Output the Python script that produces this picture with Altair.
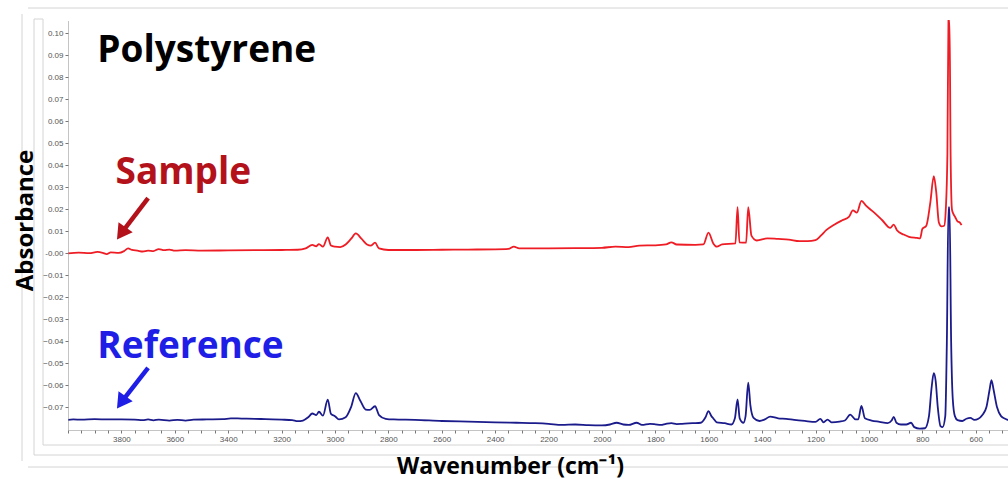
import altair as alt
import pandas as pd

# ---------------- data ----------------
sample_wn = [4000, 3960, 3920, 3890, 3870, 3855, 3840, 3810, 3790, 3775, 3760, 3740, 3720, 3700,
             3680, 3660, 3640, 3620, 3600, 3560, 3500, 3400, 3300, 3200, 3140, 3110, 3085, 3070,
             3060, 3045, 3027, 3015, 3000, 2980, 2960, 2940, 2922, 2900, 2880, 2865, 2850, 2835,
             2800, 2700, 2600, 2500, 2400, 2350, 2330, 2310, 2200, 2100, 2000, 1950, 1900, 1860,
             1800, 1760, 1740, 1720, 1650, 1620, 1601, 1583, 1570, 1550, 1500, 1492, 1485, 1460,
             1452, 1440, 1420, 1380, 1340, 1300, 1260, 1230, 1200, 1180, 1160, 1130, 1100, 1075,
             1060, 1045, 1028, 1010, 980, 950, 920, 907, 895, 870, 850, 820, 808, 800, 785, 770,
             757, 748, 738, 728, 718, 712, 706, 702, 698, 694, 689, 684, 677, 668, 660, 653]
sample_abs = [0.0000, 0.0003, 0.0001, 0.0006, 0.0002, -0.0004, 0.0004, 0.0002, 0.0010, 0.0022,
              0.0015, 0.0012, 0.0008, 0.0012, 0.0010, 0.0019, 0.0014, 0.0017, 0.0012, 0.0014,
              0.0012, 0.0013, 0.0014, 0.0015, 0.0016, 0.0022, 0.0038, 0.0032, 0.0042, 0.0030,
              0.0072, 0.0035, 0.0030, 0.0028, 0.0040, 0.0065, 0.0090, 0.0065, 0.0040, 0.0035,
              0.0048, 0.0022, 0.0015, 0.0015, 0.0016, 0.0017, 0.0018, 0.0020, 0.0030, 0.0022,
              0.0022, 0.0023, 0.0025, 0.0030, 0.0028, 0.0035, 0.0036, 0.0040, 0.0050, 0.0040,
              0.0038, 0.0040, 0.0094, 0.0045, 0.0030, 0.0040, 0.0045, 0.0210, 0.0050, 0.0048,
              0.0210, 0.0080, 0.0058, 0.0068, 0.0065, 0.0062, 0.0055, 0.0055, 0.0060, 0.0080,
              0.0105, 0.0130, 0.0150, 0.0165, 0.0195, 0.0185, 0.0238, 0.0215, 0.0185, 0.0150,
              0.0115, 0.0130, 0.0105, 0.0085, 0.0075, 0.0070, 0.0068, 0.0110, 0.0125, 0.0230,
              0.0350, 0.0280, 0.0140, 0.0122, 0.0125, 0.0200, 0.0450, 0.1058, 0.1058, 0.0450,
              0.0200, 0.0180, 0.0165, 0.0145, 0.0140, 0.0128]

ref_wn = [4000, 3980, 3950, 3900, 3850, 3800, 3750, 3720, 3700, 3680, 3660, 3620, 3590, 3560,
          3530, 3480, 3420, 3390, 3350, 3300, 3260, 3200, 3160, 3140, 3120, 3100, 3085, 3070,
          3060, 3045, 3027, 3015, 3000, 2985, 2960, 2940, 2922, 2905, 2885, 2870, 2850, 2835,
          2810, 2780, 2700, 2600, 2500, 2400, 2320, 2250, 2200, 2150, 2100, 2050, 2000, 1970,
          1945, 1920, 1900, 1870, 1850, 1820, 1800, 1780, 1760, 1740, 1720, 1700, 1660, 1630,
          1612, 1601, 1590, 1583, 1570, 1540, 1515, 1502, 1492, 1484, 1470, 1462, 1452, 1444,
          1432, 1410, 1390, 1370, 1340, 1310, 1280, 1240, 1200, 1182, 1170, 1155, 1140, 1110,
          1090, 1070, 1050, 1040, 1028, 1015, 990, 960, 930, 915, 907, 897, 880, 860, 842, 830,
          810, 790, 775, 766, 757, 750, 742, 732, 724, 714, 708, 702, 698, 692, 686, 678, 668,
          650, 635, 620, 605, 590, 575, 560, 548, 541, 533, 520, 505, 490, 479]
ref_abs = [-0.0757, -0.0755, -0.0756, -0.0754, -0.0755, -0.0755, -0.0756, -0.0758, -0.0755,
           -0.0759, -0.0756, -0.0760, -0.0757, -0.0760, -0.0756, -0.0755, -0.0754, -0.0750,
           -0.0751, -0.0752, -0.0754, -0.0756, -0.0758, -0.0763, -0.0760, -0.0745, -0.0728,
           -0.0735, -0.0720, -0.0738, -0.0665, -0.0730, -0.0740, -0.0755, -0.0745, -0.0700,
           -0.0635, -0.0670, -0.0710, -0.0712, -0.0695, -0.0735, -0.0752, -0.0755, -0.0757,
           -0.0762, -0.0765, -0.0768, -0.0770, -0.0772, -0.0775, -0.0780, -0.0778, -0.0781,
           -0.0782, -0.0778, -0.0770, -0.0778, -0.0780, -0.0770, -0.0780, -0.0775, -0.0777,
           -0.0780, -0.0775, -0.0772, -0.0776, -0.0775, -0.0772, -0.0770, -0.0745, -0.0717,
           -0.0740, -0.0750, -0.0768, -0.0772, -0.0778, -0.0750, -0.0664, -0.0750, -0.0770,
           -0.0740, -0.0588, -0.0690, -0.0748, -0.0762, -0.0755, -0.0742, -0.0750, -0.0752,
           -0.0757, -0.0762, -0.0766, -0.0752, -0.0768, -0.0756, -0.0768, -0.0765, -0.0760,
           -0.0733, -0.0755, -0.0755, -0.0694, -0.0750, -0.0760, -0.0766, -0.0772, -0.0760,
           -0.0743, -0.0770, -0.0778, -0.0778, -0.0770, -0.0790, -0.0797, -0.0795, -0.0740,
           -0.0620, -0.0545, -0.0580, -0.0700, -0.0785, -0.0790, -0.0740, -0.0400, 0.0209,
           0.0209, -0.0400, -0.0660, -0.0740, -0.0758, -0.0762, -0.0752, -0.0748, -0.0757,
           -0.0752, -0.0735, -0.0700, -0.0620, -0.0576, -0.0620, -0.0700, -0.0740, -0.0752,
           -0.0758]

series_names = ["Sample", "Reference"]
series_colors = ["#EE1C24", "#1B1B8C"]

y_ticks = [-0.07, -0.06, -0.05, -0.04, -0.03, -0.02, -0.01, 0.0,
           0.01, 0.02, 0.03, 0.04, 0.05, 0.06, 0.07, 0.08, 0.09, 0.10]
x_tick_labels = [3800, 3600, 3400, 3200, 3000, 2800, 2600, 2400, 2200, 2000,
                 1800, 1600, 1400, 1200, 1000, 800, 600]
x_minor_ticks = list(range(500, 4001, 50))

# annotation texts and anchor points (data coordinates)
notes_text = ["Polystyrene", "Sample", "Reference"]
notes_wn = [3890, 3822, 3890]
notes_abs = [0.0920, 0.0365, -0.0425]
notes_color = ["#000000", "#B3121B", "#1E1EE6"]

arrow_wn0 = [3700, 3700]
arrow_abs0 = [0.0251, -0.0521]
arrow_wn1 = [3795, 3795]
arrow_abs1 = [0.0100, -0.0668]
arrow_color = ["#B3121B", "#1E1EE6"]

# ---------------- build chart ----------------
W, H = 940, 410
X_DOM = [479, 4000]
Y_DOM = [-0.0803, 0.1060]

spec = pd.concat([
    pd.DataFrame({"wn": sample_wn, "abs": sample_abs, "series": "Sample"}),
    pd.DataFrame({"wn": ref_wn, "abs": ref_abs, "series": "Reference"}),
])

xscale = alt.Scale(domain=X_DOM, reverse=True, nice=False, zero=False)
yscale = alt.Scale(domain=Y_DOM, nice=False, zero=False)

x_axis = alt.Axis(
    values=x_minor_ticks,
    labelExpr="(datum.value % 200 == 0 && datum.value < 4000) ? format(datum.value, 'd') : ''",
    labelOverlap=False, labelFont="Liberation Sans", labelFontSize=8, labelColor="#555555",
    labelPadding=2, tickSize=3, tickColor="#777777", domainColor="#888888", domainDash=[1, 1],
    grid=False, title="Wavenumber (cm\u207b\u00b9)", titleFont="Open Sans", titleFontSize=23,
    titleFontWeight="bold", titleColor="#000000", titleX=442, titleY=36,
    titleAlign="center", titleBaseline="middle", zindex=1,
)
y_axis = alt.Axis(
    values=y_ticks,
    labelExpr="abs(datum.value) < 0.0001 ? '-0.00' : format(datum.value, '.2f')",
    labelOverlap=False, labelFont="Liberation Sans", labelFontSize=8, labelColor="#555555",
    labelPadding=2, tickSize=3, tickColor="#777777", domainColor="#888888", domainDash=[1, 1],
    grid=False, title="Absorbance", titleFont="Open Sans", titleFontSize=24,
    titleFontWeight="bold", titleColor="#000000", titleX=-43, titleY=200, titleAngle=270,
    titleAlign="center", titleBaseline="middle", zindex=1,
)

def X(field):
    return alt.X(field, type="quantitative", scale=xscale, axis=x_axis)
def Y(field):
    return alt.Y(field, type="quantitative", scale=yscale, axis=y_axis)

lines = alt.Chart(spec).mark_line(strokeWidth=1.8, clip=True, interpolate="monotone").encode(
    x=X("wn"), y=Y("abs"),
    color=alt.Color("series:N", scale=alt.Scale(domain=series_names, range=series_colors), legend=None),
    order=alt.Order("wn:Q"),
)

notes = pd.DataFrame({"t": notes_text, "wn": notes_wn, "abs": notes_abs, "c": notes_color})
texts = alt.Chart(notes).mark_text(
    align="left", baseline="middle", font="Open Sans", fontWeight="bold", fontSize=37
).encode(
    x=X("wn"), y=Y("abs"), text="t:N", color=alt.Color("c:N", scale=None),
)

arrows = pd.DataFrame({"wn": arrow_wn0, "abs": arrow_abs0, "wn2": arrow_wn1,
                       "abs2": arrow_abs1, "c": arrow_color})
shafts = alt.Chart(arrows).mark_rule(strokeWidth=4.5).encode(
    x=X("wn"), y=Y("abs"), x2="wn2:Q", y2="abs2:Q", color=alt.Color("c:N", scale=None),
)
heads = alt.Chart(arrows).mark_point(shape="triangle", filled=True, opacity=1, size=300, angle=215).encode(
    x=X("wn2"), y=Y("abs2"), color=alt.Color("c:N", scale=None),
)

# decorative frames around the plot (pixel positions relative to plot origin)
frame_col = "#D4D4D4"
def hline(y, x1, x2):
    return alt.Chart(pd.DataFrame({"k": [0]})).mark_rule(color=frame_col, strokeWidth=1).encode(
        x=alt.value(x1), x2=alt.value(x2), y=alt.value(y))
def vline(x, y1, y2):
    return alt.Chart(pd.DataFrame({"k": [0]})).mark_rule(color=frame_col, strokeWidth=1).encode(
        x=alt.value(x), y=alt.value(y1), y2=alt.value(y2))

frames = [
    hline(-12, -40, W), vline(-46, -6, 441), hline(447, -40, W),
    vline(-34, -1, 435), hline(435, -34, W), hline(-1, -34, -25),
    vline(-25, -1, 425), hline(425, -25, W),
]

chart = alt.layer(*frames, lines, shafts, heads, texts).properties(
    width=W, height=H,
    background="#FFFFFF",
    autosize=alt.AutoSizeParams(type="none"),
    padding={"left": 68, "top": 20, "right": 0, "bottom": 49},
).configure_view(strokeWidth=0).configure_axis(labelOverlap=False)

chart.save("out.html", embed_options={"renderer": "svg", "actions": False})
